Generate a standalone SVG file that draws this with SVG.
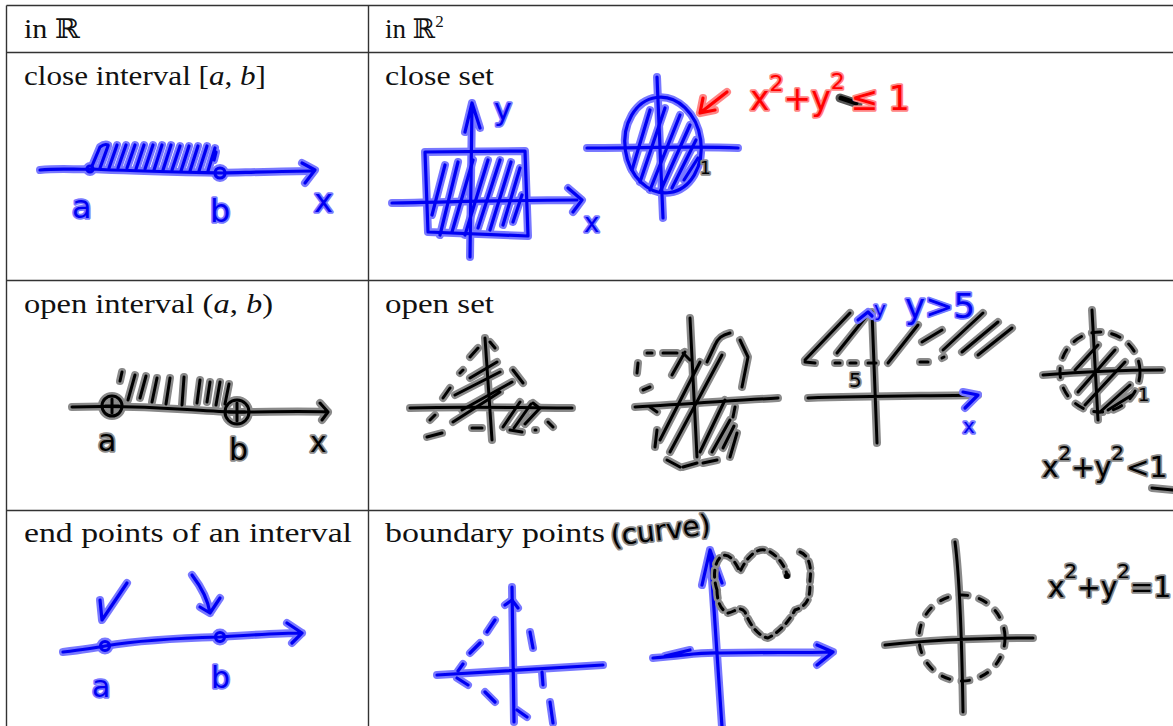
<svg xmlns="http://www.w3.org/2000/svg" xmlns:xlink="http://www.w3.org/1999/xlink" width="1173" height="726" viewBox="0 0 1173 726">
<style>
.grid{stroke:#333;stroke-width:1.4;fill:none}
.tx{font-family:"Liberation Serif","DejaVu Serif",serif;font-size:27px;fill:#111}
.bh{fill:none;stroke:#7878ff;stroke-width:8;stroke-linecap:round;stroke-linejoin:round}
.bc{fill:none;stroke:#0000f2;stroke-width:3.2;stroke-linecap:round;stroke-linejoin:round}
.kh{fill:none;stroke:#8a8a8a;stroke-width:8;stroke-linecap:round;stroke-linejoin:round}
.kc{fill:none;stroke:#000;stroke-width:3;stroke-linecap:round;stroke-linejoin:round}
.rh{fill:none;stroke:#ff8585;stroke-width:8;stroke-linecap:round;stroke-linejoin:round}
.rc{fill:none;stroke:#ff0000;stroke-width:3.2;stroke-linecap:round;stroke-linejoin:round}
.hb{font-family:"DejaVu Sans",sans-serif;fill:#0000f2;stroke:#7878ff;stroke-width:3.5;paint-order:stroke;stroke-linejoin:round}
.hk{font-family:"DejaVu Sans",sans-serif;fill:#000;stroke:#8a8a8a;stroke-width:3.5;paint-order:stroke;stroke-linejoin:round}
.hr{font-family:"DejaVu Sans",sans-serif;fill:#ff0000;stroke:#ff8585;stroke-width:3.5;paint-order:stroke;stroke-linejoin:round}
</style>
<defs>
<g id="s1">
<path d="M40,170 C60,168 80,170 92,169 C130,171 180,172 222,173 C260,172 290,171 313,171"/>
<path d="M302,163 L315,170 L305,183"/>
<circle cx="90" cy="169" r="3"/>
<circle cx="220" cy="173" r="5"/>
<path d="M92,166 L100,147 C104,144 106,144 108,145"/>
<path d="M100,168 L108,146 M109,168 L117,145 M118,168 L126,145 M127,168 L135,145 M136,169 L144,145 M145,169 L153,145 M154,170 L162,145 M163,170 L171,145 M172,170 L180,146 M181,171 L189,146 M190,171 L198,146 M199,171 L207,146 M208,171 L215,148 M214,160 L216,152"/>
</g>
<g id="s2">
<path d="M425,152 L525,151 L528,236 L428,232 Z"/>
<path d="M470,257 L472,103 M465,132 L472,103 L480,128"/>
<path d="M392,203 C450,202 520,200 577,200 M568,188 L582,200 L573,212"/>
<path d="M432,215 L445,165 M440,235 L458,162 M452,232 L473,160 M465,235 L488,160 M478,228 L500,160 M490,230 L511,162 M503,225 L520,168 M513,222 L522,195"/>
<ellipse cx="663" cy="145" rx="38" ry="48" transform="rotate(-8 663 145)"/>
<path d="M657,77 L663,218 M587,148 C640,148 700,146 738,148"/>
<path d="M632,170 L650,110 M640,182 L665,108 M650,190 L680,115 M660,192 L690,125 M672,188 L696,140 M684,180 L698,158"/>
</g>
<g id="r1">
<path d="M727,92 L700,113 M703,98 L700,113 L715,110"/>
</g>
<g id="s3">
<path d="M72,407 C150,404 200,412 237,412 C270,412 300,411 328,412 M320,403 L328,412 L322,420"/>
<circle cx="112" cy="406" r="10"/>
<circle cx="237" cy="412" r="12"/>
<path d="M112,399 L112,413 M105,406 L119,406 M237,403 L237,421 M229,412 L245,412"/>
<path d="M120,381 L122,372 M128,400 L135,375 M140,398 L146,376 M152,402 L157,378 M166,404 L170,378 M182,405 L184,377 M197,403 L200,380 M207,402 L210,382 M216,405 L220,382 M225,404 L229,384"/>
</g>
<g id="s4">
<path d="M410,408 C470,406 520,408 572,408 M485,338 L492,440"/>
<path d="M430,420 L435,415 M443,398 L450,388 M460,373 L463,370 M470,357 L478,348 M490,342 L495,348 M513,370 L523,383 M533,403 L538,407 M548,422 L553,427 M427,437 L442,433 M472,428 L482,428 M510,430 L522,432 M535,430 L536,430"/>
<path d="M453,422 L500,392 M462,410 L512,382 M455,395 L500,372 M470,378 L497,362 M503,427 L520,402 M514,428 L531,404 M525,424 L540,408"/>
<path d="M635,407 C690,404 740,400 778,398 M690,318 L697,457"/>
<path d="M647,353 L652,353 M663,353 L677,353 M683,353 L690,360 M638,363 L637,373 M643,390 L650,387 M707,362 L715,345 C718,338 722,335 730,333 M740,340 L748,357 L742,387 M735,407 L733,417 M650,407 L657,412 M657,430 L655,447 M667,460 L680,467 M683,467 L697,463 M703,463 L717,460 M730,457 L737,433"/>
<path d="M660,440 L700,362 M670,452 L722,355 M700,452 L725,400 M712,452 L730,420 M723,448 L734,426 M685,352 L672,375"/>
<path d="M808,398 C870,396 930,396 978,395 M872,312 L877,443"/>
<path d="M805,360 L850,313 M837,353 L865,318 M888,363 L918,325 M922,342 L942,330 M943,350 L983,313 M962,352 L998,322 M978,355 L1012,328 M805,362 L815,363 M835,363 L840,363 M850,363 L856,363 M868,363 L876,363 M920,362 L928,362 M942,358 L944,357"/>
<circle cx="1100" cy="372" r="40" stroke-dasharray="9 11"/>
<path d="M1043,375 C1080,372 1120,370 1162,370 M1092,310 L1098,420"/>
<path d="M1078,392 L1115,350 M1085,405 L1125,362 M1100,412 L1130,385 M1075,370 L1098,345 M1108,410 L1132,395"/>
</g>
<g id="b4">
<path d="M858,320 L868,312 L872,316 M963,392 L978,395 L965,408"/>
</g>
<g id="s5">
<path d="M63,652 C80,650 95,648 105,646 C140,640 180,638 220,637 C250,635 280,633 302,633 M287,623 L302,633 L292,643"/>
<circle cx="105" cy="646" r="4.5"/>
<circle cx="220" cy="637" r="4.5"/>
<path d="M100,600 L102,620 L127,583 M192,575 C202,588 208,600 210,613 M200,607 L210,613 L220,598"/>
</g>
<g id="s6">
<path d="M512,587 L514,722 M437,675 C500,671 560,668 603,665"/>
<path d="M505,605 L512,600 L518,608 M470,653 L480,643 M487,632 L495,620 M457,678 L468,685 M485,692 L495,702 M517,710 L527,717 M458,671 L463,664 M530,632 L533,648 M542,672 L543,685 M550,702 L553,723"/>
<path d="M710,550 L722,727 M702,585 L710,550 L722,583"/>
<path d="M653,658 C690,655 700,652 720,653 C760,652 800,653 833,652 M817,645 L833,652 L817,665 M665,656 L690,650"/>
</g>
<g id="k6">
<path d="M717,590 C712,575 715,560 722,556 C730,552 737,565 740,572 C745,560 755,548 765,550 C775,552 785,565 787,575 M800,552 C808,555 812,565 810,580 C810,595 810,605 795,610 C790,620 780,632 768,638 C758,636 750,625 745,612 C740,605 735,612 728,613 C720,610 717,600 717,590" stroke-dasharray="7 6"/>
<path d="M955,542 C960,580 962,650 963,712 M885,645 C930,640 980,638 1033,638"/>
<circle cx="962" cy="638" r="43" stroke-dasharray="8 12"/>
</g>
</defs>

<g id="table">
<path class="grid" d="M6.5,5.5 H1173 M6.5,52.5 H1173 M6.5,280.5 H1173 M6.5,510.5 H1173 M6.5,5.5 V726 M368.5,5.5 V726"/>
<text class="tx" x="24" y="38" textLength="56" lengthAdjust="spacingAndGlyphs">in <tspan font-family="DejaVu Serif">ℝ</tspan></text>
<text class="tx" x="385" y="38">in <tspan font-family="DejaVu Serif">ℝ</tspan><tspan font-size="17" dy="-11">2</tspan></text>
<text class="tx" x="24" y="85" textLength="242" lengthAdjust="spacingAndGlyphs">close interval [<tspan font-style="italic">a</tspan>, <tspan font-style="italic">b</tspan>]</text>
<text class="tx" x="385" y="85" textLength="109" lengthAdjust="spacingAndGlyphs">close set</text>
<text class="tx" x="24" y="313" textLength="249" lengthAdjust="spacingAndGlyphs">open interval (<tspan font-style="italic">a</tspan>, <tspan font-style="italic">b</tspan>)</text>
<text class="tx" x="385" y="313" textLength="109" lengthAdjust="spacingAndGlyphs">open set</text>
<text class="tx" x="24" y="542" textLength="328" lengthAdjust="spacingAndGlyphs">end points of an interval</text>
<text class="tx" x="385" y="542" textLength="220" lengthAdjust="spacingAndGlyphs">boundary points</text>
</g>

<g id="sketches">
<use href="#s1" class="bh"/><use href="#s1" class="bc"/>
<use href="#s2" class="bh"/><use href="#s2" class="bc"/>
<use href="#r1" class="rh"/><use href="#r1" class="rc"/>
<use href="#s3" class="kh"/><use href="#s3" class="kc"/>
<use href="#s4" class="kh"/><use href="#s4" class="kc"/>
<use href="#b4" class="bh"/><use href="#b4" class="bc"/>
<use href="#s5" class="bh"/><use href="#s5" class="bc"/>
<use href="#s6" class="bh"/><use href="#s6" class="bc"/>
<use href="#k6" class="kh"/><use href="#k6" class="kc"/>
<path d="M840,98 L858,104" stroke="#555" stroke-width="9" stroke-linecap="round"/>
<path d="M841,98 L856,103" stroke="#000" stroke-width="5" stroke-linecap="round"/>
<circle cx="787" cy="576" r="3" fill="#000"/>
</g>

<g id="labels">
<text class="hb" x="72" y="218" font-size="32">a</text>
<text class="hb" x="210" y="222" font-size="32">b</text>
<text class="hb" x="314" y="212" font-size="32">x</text>
<text class="hb" x="494" y="120" font-size="30">y</text>
<text class="hb" x="584" y="232" font-size="26">x</text>
<text class="hk" x="700" y="174" font-size="17">1</text>
<text class="hr" x="750" y="110" font-size="33">x<tspan font-size="22" dy="-19">2</tspan><tspan dy="19">+y</tspan><tspan font-size="22" dy="-21">2</tspan><tspan dy="21" dx="6">≤ 1</tspan></text>
<text class="hk" x="98" y="451" font-size="30">a</text>
<text class="hk" x="229" y="460" font-size="30">b</text>
<text class="hk" x="310" y="452" font-size="28">x</text>
<text class="hb" x="874" y="316" font-size="20">y</text>
<text class="hb" x="905" y="318" font-size="34">y&gt;5</text>
<text class="hb" x="963" y="433" font-size="20">x</text>
<text class="hk" x="849" y="387" font-size="20">5</text>
<text class="hk" x="1138" y="401" font-size="18">1</text>
<text class="hk" x="1042" y="477" font-size="28">x<tspan font-size="20" dy="-17">2</tspan><tspan dy="17">+y</tspan><tspan font-size="20" dy="-17">2</tspan><tspan dy="17" dx="2">&lt;1</tspan></text>
<path d="M1152,488 L1173,490" stroke="#8a8a8a" stroke-width="8" stroke-linecap="round"/>
<path d="M1152,488 L1173,490" stroke="#000" stroke-width="3" stroke-linecap="round"/>
<text class="hb" x="92" y="697" font-size="30">a</text>
<text class="hb" x="211" y="688" font-size="30">b</text>
<text class="hk" x="612" y="546" font-size="28" transform="rotate(-7 612 546)">(curve)</text>
<text class="hk" x="1048" y="597" font-size="28">x<tspan font-size="20" dy="-19">2</tspan><tspan dy="19">+y</tspan><tspan font-size="20" dy="-19">2</tspan><tspan dy="19">=1</tspan></text>
</g>
</svg>
